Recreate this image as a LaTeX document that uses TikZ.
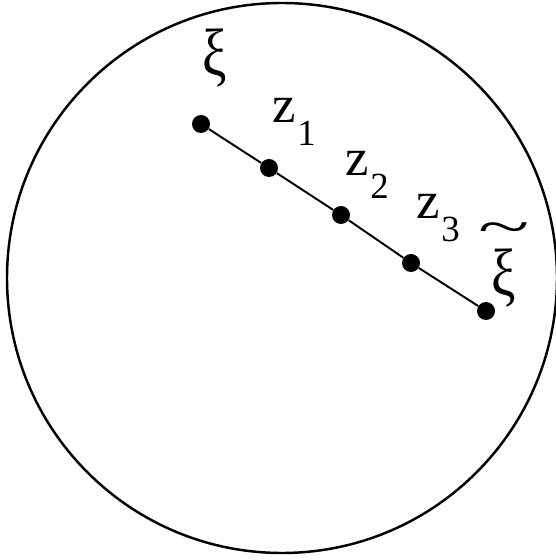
\documentclass[tikz,border=0pt]{standalone}
\usepackage{fontspec}
\setmainfont{Liberation Serif}
\usetikzlibrary{positioning}
\tikzset{
  dotpt/.style={
    circle, fill=black, inner sep=0pt, minimum size=0.36cm
  },
  ptlabel/.style={
    font=\fontsize{30}{34}\selectfont, inner sep=0pt
  },
  segline/.style={line width=1.1pt},
}
\newcommand{\xiglyph}{\scalebox{0.82}[1]{\fontsize{38}{40}\selectfont ξ}}
\newcommand{\zsub}[1]{z\kern1pt\raisebox{-13pt}{\fontsize{21}{21}\selectfont #1}}

\begin{document}
\begin{tikzpicture}
  \useasboundingbox (0,0) rectangle (11.12,11.2);

  % Disc
  \node[circle, draw, line width=1.4pt, minimum size=11cm, inner sep=0pt] (disc) at (5.64,5.64) {};

  % Points
  \node[dotpt] (xi)  at (4.02,8.72) {};
  \node[dotpt] (z1)  at (5.38,7.84) {};
  \node[dotpt] (z2)  at (6.82,6.90) {};
  \node[dotpt] (z3)  at (8.22,5.94) {};
  \node[dotpt] (xit) at (9.72,4.98) {};

  % Segment
  \draw[segline] (xi) -- (z1) -- (z2) -- (z3) -- (xit);

  % Labels
  \node[ptlabel] (lxi)  at (4.29,10.04) {\xiglyph};
  \node[ptlabel] (lz1)  at (5.88,8.76) {\zsub{1}};
  \node[ptlabel] (lz2)  at (7.34,7.70) {\zsub{2}};
  \node[ptlabel] (lz3)  at (8.76,6.84) {\zsub{3}};
  \node[ptlabel] (lxit) at (10.08,5.90) {\shortstack{\scalebox{1.8}[1]{\textasciitilde}\\[0pt]\xiglyph}};
\end{tikzpicture}
\end{document}
